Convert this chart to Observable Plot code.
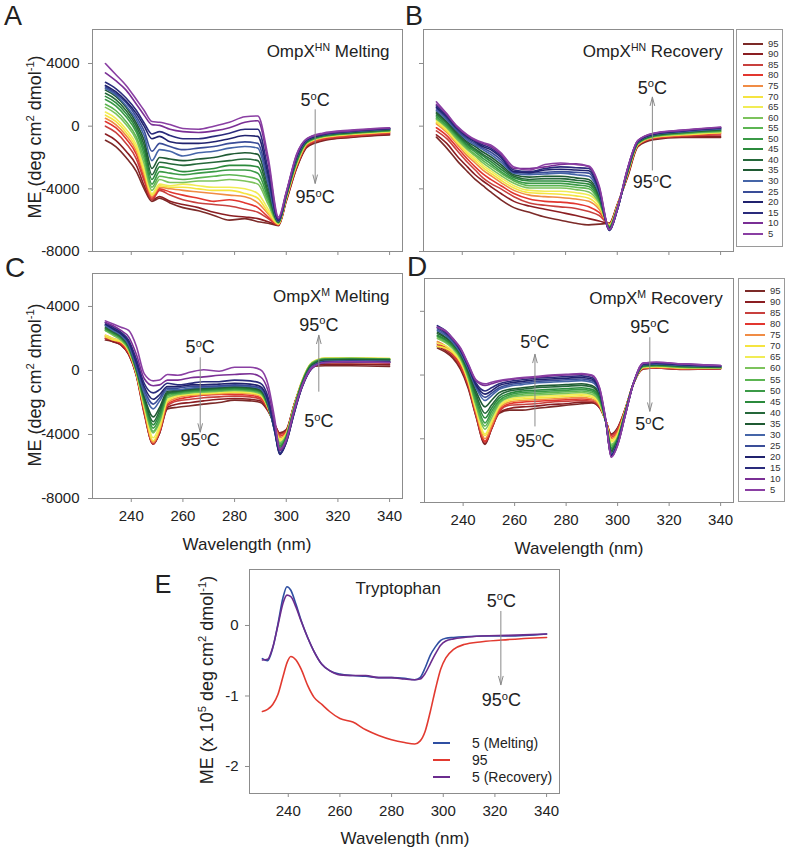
<!DOCTYPE html>
<html><head><meta charset="utf-8">
<script src="https://cdn.jsdelivr.net/npm/d3@7"></script>
<script src="https://cdn.jsdelivr.net/npm/@observablehq/plot@0.6"></script>
<style>
body{margin:0;background:#fff;}
#root{position:relative;width:789px;height:853px;overflow:hidden;background:#fff;font-family:"Liberation Sans",Arial,sans-serif;color:#222;}
.lbl{position:absolute;white-space:nowrap;line-height:1;}
.lbl sup{font-size:0.62em;vertical-align:0;position:relative;top:-0.6em;line-height:0;}
.legend{position:absolute;border:1px solid #9a9a9a;box-sizing:border-box;background:#fff;}
.legend .ln{position:absolute;height:2px;}
.legend .tx{position:absolute;font-size:9.5px;line-height:1;color:#333;transform:translateY(-50%);}
</style></head><body><div id="root"></div><script>
// ---------- data ----------
const temps = [5,10,15,20,25,30,35,40,45,50,55,60,65,70,75,80,85,90,95];
const tempColors = ["#8a3fa3","#7a2f95","#2a2b7c","#20226e","#3a4d98","#4565a8","#1f5a33","#25683a","#2b8a3c","#3b9a47","#5cb552","#7cc35c","#f1ec55","#f5e440","#f08c45","#e2362f","#c8403d","#8b1e22","#7c2a28"];
const xTicks = [240,260,280,300,320,340];
const yTicksME = [-8000,-4000,0,4000];
const yTicksE = [-2,-1,0];

const gridHN = [230,234,238,242,245,248,251,255,260,266,272,278,284,289,293,297,300,304,308,314,325,340];
const hnMelting = [
 [4000,3300,2600,1700,1000,300,250,100,-150,-200,0,250,600,650,-2000,-5800,-4200,-1800,-800,-450,-250,-100],
 [3400,2900,2300,1400,700,100,50,-200,-350,-400,-300,-100,250,350,-2300,-5900,-4250,-1850,-800,-500,-300,-120],
 [2800,2400,1800,1000,200,-500,-350,-600,-800,-800,-650,-450,-200,-200,-2800,-6000,-4300,-1900,-850,-500,-300,-150],
 [2600,2200,1600,800,0,-800,-650,-1000,-1100,-1100,-1000,-800,-600,-650,-3100,-6000,-4300,-1950,-850,-550,-320,-150],
 [2500,2100,1500,600,-300,-1600,-1100,-1300,-1500,-1400,-1300,-1100,-1000,-1100,-3400,-6050,-4350,-2000,-900,-550,-340,-170],
 [2400,2000,1300,400,-600,-2200,-1500,-1600,-1900,-1700,-1600,-1400,-1300,-1400,-3700,-6050,-4350,-2050,-900,-560,-350,-180],
 [2300,1900,1200,200,-900,-2700,-2000,-2100,-2200,-2100,-2000,-1800,-1700,-1800,-3900,-6100,-4400,-2100,-950,-580,-380,-200],
 [2100,1700,1000,0,-1200,-3100,-2300,-2400,-2500,-2400,-2300,-2200,-2100,-2200,-4200,-6100,-4400,-2150,-950,-600,-400,-220],
 [1900,1500,800,-200,-1500,-3400,-2600,-2700,-2900,-2800,-2700,-2500,-2500,-2600,-4400,-6100,-4450,-2200,-1000,-620,-420,-250],
 [1700,1300,600,-400,-1800,-3700,-2900,-3000,-3100,-3000,-2900,-2800,-2800,-3000,-4600,-6150,-4450,-2250,-1000,-640,-440,-270],
 [1400,1000,300,-700,-2100,-3900,-3200,-3300,-3400,-3300,-3200,-3100,-3200,-3400,-4800,-6150,-4500,-2300,-1050,-660,-460,-290],
 [1200,800,100,-900,-2400,-4100,-3400,-3600,-3600,-3500,-3500,-3400,-3500,-3700,-5000,-6200,-4500,-2350,-1050,-680,-480,-310],
 [900,500,-200,-1200,-2700,-4300,-3700,-3800,-3700,-3800,-3900,-3900,-4000,-4300,-5300,-6200,-4550,-2400,-1100,-700,-500,-330],
 [700,300,-400,-1400,-2900,-4400,-3800,-3900,-3900,-4000,-4100,-4100,-4300,-4600,-5500,-6250,-4600,-2450,-1100,-720,-520,-350],
 [500,100,-600,-1600,-3100,-4500,-3900,-4000,-4100,-4200,-4300,-4400,-4500,-4900,-5600,-6250,-4600,-2500,-1150,-750,-550,-380],
 [300,-100,-800,-1800,-3300,-4600,-4000,-4200,-4400,-4600,-4800,-4700,-4900,-5200,-5800,-6300,-4650,-2550,-1200,-800,-600,-420],
 [0,-400,-1100,-2100,-3500,-4700,-4100,-4400,-4700,-4900,-5000,-5100,-5300,-5500,-5900,-6300,-4700,-2600,-1250,-850,-650,-470],
 [-500,-900,-1600,-2500,-3800,-4700,-4500,-4800,-5000,-5200,-5500,-5700,-5800,-5900,-6100,-6300,-4750,-2650,-1300,-900,-700,-520],
 [-900,-1300,-2000,-2900,-4000,-4800,-4600,-4900,-5200,-5400,-5700,-6000,-5900,-6100,-6200,-6350,-4800,-2700,-1350,-950,-720,-560]
];
const hnRecovery = [
 [1550,800,0,-550,-850,-1050,-1200,-1700,-2600,-2800,-2450,-2350,-2450,-2550,-3800,-6600,-5300,-2700,-900,-450,-250,-50],
 [1400,750,-50,-600,-900,-1100,-1300,-1800,-2700,-2700,-2600,-2450,-2400,-2600,-3900,-6600,-5300,-2700,-920,-470,-270,-80],
 [1300,650,-100,-650,-950,-1200,-1400,-1900,-2800,-2900,-2700,-2600,-2650,-2700,-4000,-6650,-5350,-2750,-940,-490,-290,-100],
 [1200,600,-150,-700,-1000,-1300,-1500,-2000,-2900,-2950,-2800,-2750,-2800,-2850,-4100,-6650,-5350,-2750,-960,-510,-310,-120],
 [1100,500,-250,-800,-1100,-1400,-1650,-2150,-2950,-3000,-2950,-2900,-2950,-3000,-4200,-6600,-5350,-2800,-980,-530,-330,-150],
 [1000,400,-300,-900,-1200,-1500,-1800,-2300,-3000,-3100,-3050,-3000,-3100,-3200,-4300,-6600,-5350,-2800,-1000,-550,-350,-170],
 [900,300,-400,-1000,-1300,-1650,-1950,-2450,-3100,-3250,-3200,-3200,-3300,-3400,-4400,-6550,-5300,-2850,-1020,-570,-370,-200],
 [800,250,-500,-1100,-1450,-1800,-2100,-2600,-3200,-3400,-3350,-3350,-3450,-3550,-4500,-6500,-5300,-2850,-1040,-590,-390,-230],
 [700,150,-550,-1200,-1550,-1900,-2250,-2750,-3300,-3500,-3500,-3500,-3600,-3700,-4600,-6500,-5250,-2900,-1060,-610,-410,-260],
 [600,50,-650,-1300,-1650,-2050,-2400,-2900,-3400,-3650,-3650,-3650,-3750,-3850,-4700,-6450,-5250,-2900,-1080,-630,-430,-290],
 [500,-50,-750,-1400,-1800,-2200,-2550,-3000,-3500,-3800,-3800,-3800,-3900,-4000,-4800,-6400,-5200,-2950,-1100,-650,-460,-320],
 [450,-100,-850,-1500,-1900,-2350,-2700,-3150,-3650,-3950,-3950,-3950,-4050,-4200,-4900,-6400,-5200,-2950,-1120,-670,-490,-350],
 [350,-200,-950,-1650,-2050,-2500,-2850,-3300,-3800,-4100,-4150,-4150,-4250,-4400,-5000,-6350,-5150,-3000,-1140,-690,-520,-380],
 [250,-300,-1050,-1750,-2200,-2650,-3000,-3450,-3950,-4250,-4300,-4350,-4450,-4600,-5150,-6300,-5150,-3000,-1160,-710,-550,-410],
 [150,-400,-1150,-1900,-2350,-2800,-3150,-3600,-4100,-4400,-4500,-4550,-4650,-4800,-5300,-6300,-5100,-3050,-1180,-730,-580,-440],
 [-100,-600,-1350,-2100,-2600,-3050,-3400,-3800,-4300,-4650,-4800,-4850,-4950,-5150,-5500,-6250,-5100,-3100,-1200,-760,-610,-480],
 [-300,-800,-1550,-2300,-2800,-3300,-3650,-4000,-4500,-4900,-5050,-5150,-5250,-5450,-5700,-6250,-5050,-3150,-1230,-790,-640,-560],
 [-550,-1100,-1900,-2600,-3100,-3500,-3850,-4300,-4800,-5100,-5300,-5500,-5700,-5900,-6050,-6200,-5050,-3200,-1260,-820,-680,-650],
 [-700,-1400,-2200,-2900,-3400,-3800,-4200,-4700,-5200,-5500,-5800,-6000,-6200,-6300,-6250,-6200,-5000,-3250,-1300,-860,-720,-720]
];

const gridM = [230,233,236,239,242,245,248.5,251,254,258,263,268,274,280,286,290,293,295.5,297.5,300,303,306,310,315,325,340];
const mMelting = [
 [3100,2900,2700,2500,1500,-200,-650,-600,-250,-300,-100,50,-50,200,200,50,-900,-3000,-4900,-4300,-2500,-1000,200,500,550,500],
 [3000,2800,2500,2100,1000,-500,-950,-900,-600,-600,-450,-400,-300,-250,-200,-400,-1300,-3300,-5000,-4400,-2600,-1050,150,500,550,500],
 [3000,2700,2400,1900,700,-800,-1400,-1200,-800,-900,-800,-700,-700,-600,-650,-800,-1700,-3600,-5200,-4500,-2700,-1100,150,500,550,520],
 [2900,2600,2300,1800,500,-1000,-1800,-1500,-1000,-1000,-900,-900,-850,-800,-850,-1000,-1900,-3700,-5250,-4500,-2700,-1100,150,520,560,520],
 [2900,2600,2300,1700,300,-1200,-2100,-1700,-1100,-1100,-1000,-1000,-950,-900,-950,-1100,-2000,-3800,-5200,-4450,-2650,-1050,200,550,580,550],
 [2800,2500,2200,1600,200,-1400,-2400,-1900,-1200,-1200,-1100,-1050,-1000,-950,-1000,-1150,-2050,-3800,-5150,-4400,-2600,-1000,250,580,600,580],
 [2800,2500,2200,1600,150,-1600,-2900,-2300,-1300,-1250,-1150,-1100,-1050,-1000,-1050,-1200,-2100,-3750,-5000,-4300,-2550,-950,300,620,650,620],
 [2700,2400,2100,1500,100,-1700,-3200,-2500,-1400,-1300,-1200,-1150,-1100,-1050,-1100,-1250,-2150,-3700,-4900,-4250,-2500,-900,350,650,680,650],
 [2600,2400,2100,1500,50,-1800,-3400,-2700,-1450,-1350,-1250,-1200,-1150,-1100,-1150,-1300,-2200,-3700,-4800,-4200,-2450,-850,400,680,700,680],
 [2600,2300,2000,1400,0,-1900,-3600,-2900,-1500,-1400,-1300,-1250,-1200,-1150,-1200,-1350,-2250,-3650,-4700,-4150,-2400,-800,420,700,720,700],
 [2500,2300,2000,1400,-50,-2000,-3800,-3100,-1600,-1450,-1350,-1300,-1250,-1200,-1250,-1400,-2250,-3600,-4600,-4100,-2350,-780,450,720,740,700],
 [2500,2200,1900,1300,-100,-2100,-3900,-3200,-1700,-1500,-1400,-1350,-1300,-1250,-1300,-1450,-2300,-3600,-4500,-4050,-2300,-750,470,740,760,720],
 [2200,2000,1800,1300,-150,-2200,-4200,-3400,-1800,-1550,-1450,-1400,-1350,-1300,-1350,-1500,-2300,-3550,-4400,-4000,-2300,-720,500,760,780,740],
 [2100,1900,1800,1200,-200,-2300,-4400,-3600,-1900,-1600,-1500,-1450,-1400,-1350,-1400,-1550,-2350,-3500,-4300,-3950,-2250,-700,500,770,790,750],
 [2200,2000,1800,1200,-200,-2400,-4500,-3700,-2000,-1700,-1550,-1500,-1450,-1400,-1450,-1600,-2350,-3450,-4200,-3900,-2250,-700,480,750,760,700],
 [2100,1900,1700,1100,-250,-2500,-4500,-3800,-2100,-1800,-1650,-1550,-1500,-1500,-1550,-1700,-2400,-3400,-4100,-3850,-2200,-720,400,600,600,550],
 [2000,1900,1700,1100,-300,-2600,-4600,-3800,-2200,-1900,-1800,-1700,-1650,-1600,-1650,-1800,-2450,-3400,-4000,-3800,-2200,-750,350,500,500,450],
 [2000,1800,1600,1000,-300,-2600,-4600,-3900,-2300,-2100,-2000,-1900,-1800,-1750,-1800,-1900,-2500,-3350,-3950,-3750,-2150,-780,300,400,400,350],
 [1900,1800,1600,1000,-350,-2700,-4600,-3900,-2400,-2300,-2200,-2100,-2000,-1850,-1900,-2000,-2550,-3350,-3900,-3700,-2150,-800,250,300,300,250]
];
const mRecovery = [
 [3000,2800,2300,1700,700,-300,-550,-450,-350,-250,-150,-100,0,50,100,0,-800,-2900,-5150,-4400,-2500,-600,750,800,700,600],
 [3000,2750,2250,1650,650,-350,-650,-550,-400,-300,-200,-150,-50,0,50,-50,-850,-2950,-5150,-4400,-2500,-600,750,800,700,600],
 [3100,2800,2300,1600,600,-500,-1000,-800,-550,-400,-300,-200,-150,-100,-50,-150,-950,-3000,-5100,-4350,-2500,-600,700,750,680,580],
 [3000,2700,2250,1550,550,-600,-1200,-1000,-650,-500,-400,-300,-250,-200,-150,-250,-1000,-3000,-5050,-4300,-2450,-600,700,750,650,560],
 [2900,2600,2150,1500,500,-700,-1400,-1150,-800,-600,-500,-400,-350,-300,-250,-350,-1050,-3000,-5000,-4250,-2450,-600,680,720,630,550],
 [2800,2500,2050,1400,400,-800,-1600,-1300,-900,-700,-600,-500,-450,-400,-350,-450,-1100,-3000,-4950,-4200,-2400,-600,650,700,600,540],
 [2700,2400,2000,1350,300,-1000,-2000,-1600,-1100,-900,-800,-700,-650,-600,-550,-650,-1200,-3000,-4850,-4150,-2400,-600,620,680,580,520],
 [2600,2350,1950,1300,200,-1200,-2400,-1900,-1300,-1000,-900,-800,-750,-700,-650,-750,-1300,-3000,-4750,-4100,-2350,-600,600,650,560,500],
 [2500,2250,1850,1200,100,-1400,-2700,-2100,-1450,-1150,-1000,-950,-900,-850,-800,-900,-1400,-3000,-4650,-4050,-2350,-600,580,630,540,490],
 [2450,2200,1800,1150,0,-1600,-3000,-2300,-1600,-1250,-1100,-1050,-1000,-950,-900,-1000,-1500,-3000,-4550,-4000,-2300,-600,560,610,520,480],
 [2400,2100,1750,1100,-100,-1800,-3200,-2500,-1700,-1350,-1200,-1150,-1100,-1050,-1000,-1100,-1600,-3000,-4450,-3950,-2300,-600,540,590,500,470],
 [2300,2050,1650,1000,-200,-1900,-3400,-2700,-1800,-1400,-1300,-1250,-1200,-1150,-1100,-1200,-1700,-3000,-4350,-3900,-2250,-600,520,570,480,460],
 [2000,1850,1500,900,-300,-2100,-3700,-2900,-1950,-1500,-1400,-1350,-1300,-1250,-1200,-1300,-1800,-2950,-4200,-3800,-2250,-600,500,550,460,450],
 [1800,1700,1400,800,-400,-2200,-3800,-3000,-2000,-1600,-1500,-1450,-1400,-1350,-1300,-1400,-1850,-2950,-4100,-3700,-2200,-600,480,530,440,440],
 [2100,1850,1450,800,-450,-2300,-4000,-3200,-2100,-1700,-1600,-1550,-1500,-1450,-1400,-1500,-1900,-2950,-4000,-3600,-2200,-600,460,500,420,430],
 [2000,1750,1350,650,-550,-2400,-4150,-3300,-2200,-1800,-1700,-1650,-1600,-1550,-1500,-1550,-1950,-2900,-3900,-3500,-2150,-600,440,480,400,420],
 [1900,1650,1250,550,-650,-2500,-4200,-3350,-2300,-1900,-1850,-1800,-1700,-1650,-1600,-1650,-2000,-2900,-3800,-3400,-2150,-600,420,460,380,410],
 [1800,1550,1150,450,-750,-2550,-4300,-3400,-2350,-2100,-2000,-1950,-1850,-1800,-1700,-1700,-2050,-2900,-3750,-3350,-2100,-600,400,450,360,400],
 [1700,1450,1050,350,-850,-2600,-4350,-3400,-2400,-2200,-2200,-2100,-2000,-1900,-1800,-1750,-2050,-2900,-3700,-3300,-2100,-600,380,440,350,400]
];

const eSeries = ["5 (Melting)","95","5 (Recovery)"];
const eColors = ["#2f4fa2","#e23a30","#6b2c8e"];
const gridE = [230,232,234,236,238,239.5,241,243,245,247.5,250,253,256,260,265,270,275,280,285,289,291,293,295,297,299,301,304,308,315,325,340];
const eMelt5 = [-0.47,-0.5,-0.32,0.02,0.4,0.55,0.5,0.3,0.07,-0.17,-0.37,-0.55,-0.64,-0.69,-0.71,-0.72,-0.74,-0.74,-0.75,-0.77,-0.74,-0.6,-0.42,-0.3,-0.21,-0.18,-0.17,-0.16,-0.15,-0.15,-0.12];
const e95 = [-1.22,-1.19,-1.12,-0.98,-0.72,-0.53,-0.44,-0.49,-0.62,-0.85,-1.02,-1.12,-1.22,-1.32,-1.37,-1.48,-1.56,-1.62,-1.66,-1.68,-1.64,-1.5,-1.22,-0.9,-0.62,-0.46,-0.34,-0.27,-0.23,-0.2,-0.17];
const eRec5 = [-0.49,-0.48,-0.31,0.0,0.32,0.43,0.41,0.26,0.06,-0.17,-0.37,-0.55,-0.64,-0.7,-0.71,-0.71,-0.74,-0.74,-0.76,-0.77,-0.76,-0.68,-0.54,-0.4,-0.28,-0.22,-0.19,-0.17,-0.15,-0.14,-0.12];

// ---------- helpers ----------
const root = document.getElementById("root");
const FONT = '"Liberation Sans", Arial, Helvetica, sans-serif';
const xDomain = [225, 345];

function toLong(grid, rows, keys, reverse) {
  const out = [];
  const idx = keys.map((_, i) => i);
  if (reverse) idx.reverse();
  for (const k of idx) {
    const row = rows[k];
    if (row.length !== grid.length) throw new Error("row length mismatch for " + keys[k]);
    row.forEach((v, i) => out.push({nm: grid[i], v, s: keys[k]}));
  }
  return out;
}

function richify(svg) {
  const NS = "http://www.w3.org/2000/svg";
  svg.querySelectorAll("text").forEach(t => {
    const targets = t.querySelector("tspan") ? [...t.querySelectorAll("tspan")] : [t];
    for (const n of targets) {
      const s = n.textContent;
      if (!s.includes("^{")) continue;
      n.textContent = "";
      const parts = s.split(/(\^\{[^}]*\})/).filter(Boolean);
      let up = false;
      for (const p of parts) {
        const ts = document.createElementNS(NS, "tspan");
        if (p.startsWith("^{")) {
          ts.textContent = p.slice(2, -1);
          ts.setAttribute("font-size", "0.62em");
          ts.setAttribute("dy", "-0.55em");
          up = true;
        } else {
          ts.textContent = p;
          if (up) { ts.setAttribute("dy", "0.341em"); up = false; }
        }
        n.appendChild(ts);
      }
    }
  });
}

function panel(o) {
  const mL = 60, mR = 12, mT = 10, mB = 40;
  const marks = [
    Plot.frame({stroke: "#8c8c8c"}),
    Plot.axisX({ticks: xTicks, tickSize: 4, tickPadding: 8, stroke: "#8c8c8c", fill: "#222", fontSize: 15,
      tickFormat: o.xLabels ? (d => String(d)) : (() => ""), label: null}),
    Plot.axisY({ticks: o.yTicks, tickSize: 4, tickPadding: o.yPad ?? 9, stroke: "#8c8c8c", fill: "#222", fontSize: 15,
      tickFormat: o.yLabels ? (d => String(d)) : (() => ""), label: null}),
    Plot.line(o.data, {x: "nm", y: "v", z: "s", stroke: "s", strokeWidth: 1.6, curve: "monotone-x"})
  ];
  if (o.arrows) marks.push(Plot.arrow(o.arrows, {x1: "x", y1: "y1", x2: "x", y2: "y2", stroke: "#8a8a8a", strokeWidth: 1, headLength: 13, headAngle: 30}));
  if (o.titles) marks.push(Plot.text(o.titles, {x: "x", y: "y", text: "text", textAnchor: "end", fontSize: 17, fill: "#222"}));
  if (o.notes) marks.push(Plot.text(o.notes, {x: "x", y: "y", text: "text", fontSize: o.noteSize ?? 18, fill: "#222"}));
  if (o.centerTitles) marks.push(Plot.text(o.centerTitles, {x: "x", y: "y", text: "text", fontSize: 17, fill: "#222"}));
  const svg = Plot.plot({
    width: mL + o.fw + mR, height: mT + o.fh + mB,
    marginLeft: mL, marginRight: mR, marginTop: mT, marginBottom: mB,
    x: {domain: xDomain},
    y: {domain: o.yDomain},
    color: {domain: o.colorDomain, range: o.colorRange},
    style: {background: "transparent", overflow: "visible", fontFamily: FONT, fontSize: "15px", color: "#222"},
    marks
  });
  svg.style.position = "absolute";
  svg.style.left = (o.left - mL) + "px";
  svg.style.top = (o.top - mT) + "px";
  richify(svg);
  root.appendChild(svg);
}

function label(html, x, y, size, opts = {}) {
  const d = document.createElement("div");
  d.className = "lbl";
  d.innerHTML = html;
  d.style.left = x + "px";
  d.style.top = y + "px";
  d.style.fontSize = size + "px";
  const ax = opts.anchor === "start" ? "0" : opts.anchor === "end" ? "-100%" : "-50%";
  d.style.transform = `translate(${ax},-50%)` + (opts.rotate ? ` rotate(${opts.rotate}deg)` : "");
  root.appendChild(d);
}

function legendBox(left, top, w, h, y0, step, lx0, lx1, tx) {
  const box = document.createElement("div");
  box.className = "legend";
  Object.assign(box.style, {left: left + "px", top: top + "px", width: w + "px", height: h + "px"});
  root.appendChild(box);
  const order = temps.map((t, i) => i).reverse();
  order.forEach((i, r) => {
    const y = y0 + r * step - top;
    const ln = document.createElement("div");
    ln.className = "ln";
    Object.assign(ln.style, {left: (lx0 - left) + "px", width: (lx1 - lx0) + "px", top: (y - 1) + "px", background: tempColors[i]});
    box.appendChild(ln);
    const tx_ = document.createElement("div");
    tx_.className = "tx";
    tx_.textContent = temps[i];
    Object.assign(tx_.style, {left: (tx - left) + "px", top: y + "px"});
    box.appendChild(tx_);
  });
}

// ---------- panels ----------
const meDomainAB = [-8000, 6170];
const meDomainCD = [-8000, 6060];

panel({left: 92, top: 29, fw: 310, fh: 222, yDomain: meDomainAB, yTicks: yTicksME, xLabels: false, yLabels: true,
  data: toLong(gridHN, hnMelting, temps, true), colorDomain: temps, colorRange: tempColors,
  titles: [{x: 340, y: 4750, text: "OmpX^{HN} Melting"}],
  notes: [{x: 311.2, y: 1650, text: "5^{o}C"}, {x: 311.2, y: -4550, text: "95^{o}C"}],
  arrows: [{x: 311.2, y1: 1050, y2: -3650}]});

panel({left: 423, top: 29, fw: 310, fh: 222, yDomain: meDomainAB, yTicks: yTicksME, xLabels: false, yLabels: false,
  data: toLong(gridHN, hnRecovery, temps, true), colorDomain: temps, colorRange: tempColors,
  titles: [{x: 340.8, y: 4750, text: "OmpX^{HN} Recovery"}],
  notes: [{x: 313.6, y: 2450, text: "5^{o}C"}, {x: 313.6, y: -3600, text: "95^{o}C"}],
  arrows: [{x: 313.6, y1: -2800, y2: 1850}]});

panel({left: 92, top: 273, fw: 310, fh: 225, yDomain: meDomainCD, yTicks: yTicksME, xLabels: true, yLabels: true,
  data: toLong(gridM, mMelting, temps, true), colorDomain: temps, colorRange: tempColors,
  titles: [{x: 340, y: 4625, text: "OmpX^{M} Melting"}],
  notes: [{x: 266.7, y: 1450, text: "5^{o}C"}, {x: 266.7, y: -4350, text: "95^{o}C"},
          {x: 312.6, y: 2850, text: "95^{o}C"}, {x: 312.6, y: -3150, text: "5^{o}C"}],
  arrows: [{x: 266.7, y1: 800, y2: -3850}, {x: 312.6, y1: -1300, y2: 2200}]});

panel({left: 424, top: 278, fw: 309, fh: 224, yDomain: meDomainCD, yTicks: yTicksME, xLabels: true, yLabels: false,
  data: toLong(gridM, mRecovery, temps, true), colorDomain: temps, colorRange: tempColors,
  titles: [{x: 340.8, y: 4790, text: "OmpX^{M} Recovery"}],
  notes: [{x: 267.9, y: 2050, text: "5^{o}C"}, {x: 267.9, y: -4150, text: "95^{o}C"},
          {x: 312.5, y: 2980, text: "95^{o}C"}, {x: 312.5, y: -3080, text: "5^{o}C"}],
  arrows: [{x: 267.9, y1: -3200, y2: 1300}, {x: 312.5, y1: 2350, y2: -2270}]});

panel({left: 249, top: 569, fw: 310, fh: 224, yDomain: [-2.383, 0.794], yTicks: yTicksE, xLabels: true, yLabels: true, yPad: 7,
  data: toLong(gridE, [eMelt5, e95, eRec5], eSeries, false), colorDomain: eSeries, colorRange: eColors,
  centerTitles: [{x: 282.6, y: 0.52, text: "Tryptophan"}],
  notes: [{x: 322.5, y: 0.35, text: "5^{o}C"}, {x: 322.5, y: -1.06, text: "95^{o}C"}],
  arrows: [{x: 322.3, y1: 0.2, y2: -0.84}]});

// ---------- legends ----------
legendBox(736, 29, 47, 218, 42.7, 10.56, 742, 762, 767);
legendBox(738, 278, 47, 224, 290, 11.07, 744, 764, 769);

// E legend
[[743.3, 0], [760, 1], [776.7, 2]].forEach(([y, i]) => {
  const ln = document.createElement("div");
  Object.assign(ln.style, {position: "absolute", left: "433px", width: "17px", top: (y - 1) + "px", height: "2px", background: eColors[i]});
  root.appendChild(ln);
  label(eSeries[i], 472, y, 14, {anchor: "start"});
});

// ---------- text labels ----------
label("A", 13, 16, 27);
label("B", 414, 16, 27);
label("C", 15, 268, 28);
label("D", 417, 267, 28);
label("E", 163, 584, 25);
const meLabel = "ME (deg cm<sup>2</sup> dmol<sup>-1</sup>)";
label(meLabel, 35, 137, 18, {rotate: -90});
label(meLabel, 35, 385, 18, {rotate: -90});
label("ME (x 10<sup>5</sup> deg cm<sup>2</sup> dmol<sup>-1</sup>)", 207, 680, 18, {rotate: -90});
label("Wavelength (nm)", 247, 544, 17);
label("Wavelength (nm)", 579, 548, 17);
label("Wavelength (nm)", 405, 838, 17);
</script></body></html>
